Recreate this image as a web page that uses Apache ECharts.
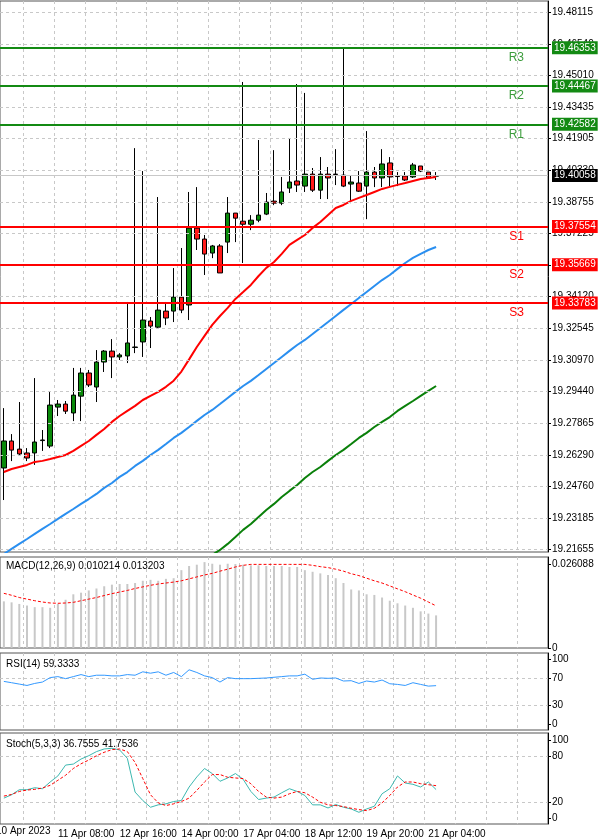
<!DOCTYPE html>
<html>
<head>
<meta charset="utf-8">
<script src="https://cdn.jsdelivr.net/npm/echarts@6/dist/echarts.min.js"></script>
<style>html,body{margin:0;padding:0;background:#fff}#main{width:600px;height:839px}</style>
</head>
<body>
<div id="main"></div>
<script>
// H4 candles [open, close, low, high]
const ohlc = [
  [19.2565,19.2698,19.2407,19.2860],[19.2698,19.2653,19.2599,19.2732],[19.2658,19.2634,19.2624,19.2890],
  [19.2639,19.2614,19.2599,19.2663],[19.2639,19.2693,19.2580,19.3008],[19.2700,19.2703,19.2649,19.2752],
  [19.2673,19.2875,19.2663,19.2939],[19.2865,19.2880,19.2821,19.2900],[19.2880,19.2845,19.2831,19.2895],
  [19.2836,19.2924,19.2796,19.3058],[19.2919,19.3033,19.2796,19.3058],[19.3033,19.2974,19.2964,19.3048],
  [19.2964,19.3087,19.2890,19.3146],[19.3087,19.3141,19.3038,19.3146],[19.3141,19.3112,19.3008,19.3200],
  [19.3112,19.3122,19.3097,19.3131],[19.3117,19.3181,19.3082,19.3383],[19.3159,19.3161,19.3131,19.4141],
  [19.3186,19.3294,19.3112,19.4028],[19.3289,19.3264,19.3156,19.3309],[19.3259,19.3343,19.3254,19.3900],
  [19.3338,19.3304,19.3269,19.3383],[19.3338,19.3407,19.3284,19.3550],[19.3407,19.3343,19.3328,19.3649],
  [19.3368,19.3747,19.3294,19.3925],[19.3747,19.3693,19.3639,19.3949],[19.3693,19.3619,19.3516,19.3713],
  [19.3624,19.3659,19.3599,19.3664],[19.3659,19.3526,19.3526,19.3668],[19.3678,19.3821,19.3624,19.3900],
  [19.3821,19.3796,19.3678,19.3821],[19.3781,19.3766,19.3575,19.4467],[19.3766,19.3786,19.3737,19.3811],
  [19.3786,19.3811,19.3776,19.4181],[19.3816,19.3875,19.3811,19.3920],[19.3880,19.3870,19.3860,19.4131],
  [19.3870,19.3925,19.3860,19.3999],[19.3944,19.3974,19.3920,19.4191],[19.3979,19.3959,19.3925,19.4457],
  [19.3954,19.4013,19.3925,19.4413],[19.4013,19.3934,19.3925,19.4043],[19.3934,19.4013,19.3890,19.4097],
  [19.4013,19.3994,19.3890,19.4048],[19.4013,19.4011,19.3959,19.4136],[19.4008,19.3954,19.3949,19.4630],
  [19.3964,19.3974,19.3870,19.4008],[19.3969,19.3929,19.3925,19.4028],[19.3954,19.4023,19.3791,19.4225],
  [19.4023,19.3994,19.3949,19.4048],[19.3994,19.4063,19.3949,19.4136],[19.4068,19.3999,19.3954,19.4097],
  [19.4004,19.4001,19.3954,19.4023],[19.4004,19.3984,19.3979,19.4023],[19.3999,19.4058,19.3994,19.4068],
  [19.4053,19.4028,19.4023,19.4053],[19.4023,19.3994,19.3994,19.4023],[19.4003,19.40058,19.3984,19.4023]
]

const maRed = [19.2545,19.2560,19.2570,19.2580,19.2595,19.2600,19.2609,19.2619,19.2629,19.2649,19.2674,19.2698,
  19.2728,19.2757,19.2792,19.2821,19.2846,19.2871,19.2900,19.2920,19.2940,19.2965,19.2995,19.3040,19.3100,19.3161,
  19.3216,19.3270,19.3314,19.3354,19.3398,19.3432,19.3467,19.3511,19.3551,19.3580,19.3620,19.3664,19.3689,19.3713,
  19.3748,19.3777,19.3812,19.3846,19.3861,19.3881,19.3896,19.3910,19.3925,19.3940,19.3950,19.3960,19.3969,19.3979,
  19.3989,19.3994,19.3999]
const maBlue = [19.2141,19.2166,19.2191,19.2215,19.2240,19.2265,19.2289,19.2314,19.2339,19.2363,19.2388,19.2412,
  19.2437,19.2467,19.2491,19.2521,19.2545,19.2575,19.2600,19.2629,19.2654,19.2683,19.2713,19.2738,19.2767,19.2797,
  19.2826,19.2851,19.2880,19.2910,19.2940,19.2969,19.2994,19.3023,19.3053,19.3082,19.3112,19.3142,19.3171,19.3196,
  19.3225,19.3255,19.3284,19.3314,19.3344,19.3373,19.3403,19.3432,19.3462,19.3491,19.3516,19.3546,19.3575,19.3600,
  19.3620,19.3639,19.3654]
const maGreen = [null,null,null,null,null,null,null,null,null,null,null,null,null,null,null,null,null,null,null,null,
  null,null,null,null,null,null,null,19.2137,19.2161,19.2191,19.2225,19.2260,19.2289,19.2324,19.2358,19.2388,19.2422,
  19.2452,19.2481,19.2516,19.2545,19.2570,19.2600,19.2629,19.2654,19.2683,19.2713,19.2738,19.2767,19.2792,19.2816,
  19.2846,19.2871,19.2895,19.2920,19.2945,19.2969]

const macdHist = [0.01461,0.01430,0.01380,0.01330,0.01279,0.01279,0.01259,0.01380,0.01511,0.01682,0.01733,0.01803,
  0.01864,0.01934,0.01984,0.02005,0.02005,0.02035,0.02105,0.02135,0.02105,0.02166,0.02186,0.02438,0.02569,0.02609,
  0.02690,0.02639,0.02609,0.02639,0.02629,0.02609,0.02589,0.02589,0.02569,0.02569,0.02569,0.02538,0.02538,0.02438,
  0.02387,0.02337,0.02287,0.02186,0.02035,0.01833,0.01803,0.01682,0.01662,0.01581,0.01481,0.01400,0.01330,0.01259,
  0.01148,0.01078,0.010214]
const macdSignal = [0.01712,0.01652,0.01581,0.01531,0.01481,0.01440,0.01410,0.01400,0.01410,0.01430,0.01481,0.01531,
  0.01581,0.01642,0.01702,0.01753,0.01803,0.01864,0.01914,0.01964,0.02005,0.02035,0.02065,0.02105,0.02166,0.02226,
  0.02287,0.02337,0.02407,0.02468,0.02538,0.02589,0.02619,0.02619,0.02619,0.02619,0.02619,0.02619,0.02619,0.02619,
  0.02589,0.02548,0.02518,0.02468,0.02407,0.02327,0.02267,0.02186,0.02105,0.02035,0.01944,0.01853,0.01763,0.01660,
  0.01560,0.01440,0.013203]
const rsi = [65.8,63.8,61.7,59.6,62.7,64.8,71.6,73.1,70,73.1,76.2,73.1,75.2,75.2,74.2,74.2,76.2,75.2,80.4,78.3,80.4,
  75.2,79.4,73.1,83.5,79.4,74.2,71.6,64.8,71.6,70,70,70,70.5,71,72.1,73.1,74.2,74.2,76.8,69,71,70.5,71,66.4,66.9,
  62.7,66.4,64.8,67.9,62.2,61.2,59.6,63.8,61.2,58.6,59.3333]
const stochK = [25.7,30,36.5,36.5,39.1,37.8,46.5,54.3,68.3,69.6,76.1,80.4,85.7,89.1,90,87.8,77,33.5,22.6,13.9,17,
  18.3,21.3,22.6,40,53,63.9,57.4,47.4,51.7,57.4,50,34.3,23.9,25.7,27,32.6,37.8,34.3,29.1,17,17,13,17.4,13.9,11.7,7.4,
  11.7,15.2,31.3,37.8,54.3,45.2,43.5,40,46.5,36.7555]
const stochD = [28.3,30.4,34.3,36.1,37,38.7,42.2,48.7,55.2,63.9,70,74.8,80.4,84.8,88.3,89.1,85.7,71.7,50.9,30,19.6,
  16.1,18.3,21.3,25.7,35.7,46.5,56.1,56.1,52.6,51.7,50.9,44.3,34.3,27,25.7,27,31.3,34.3,32.6,27,20.4,17,16.1,14.8,
  12.6,10.9,9.6,12.6,19.6,29.1,40,46.5,46.5,44.3,43,41.7536]

const priceTicks = [19.48115,19.46540,19.45010,19.43435,19.41905,19.40330,19.38755,19.37225,19.35650,19.34120,
  19.32545,19.30970,19.29440,19.27865,19.26290,19.24760,19.23185,19.21655]
const resistances = [['R1', 19.42582], ['R2', 19.44467], ['R3', 19.46353]]
const supports = [['S1', 19.37554], ['S2', 19.35669], ['S3', 19.33783]]
const lastPrice = 19.40058

// H4 bar times (market opens Sun 20:00), then empty room on the right
const SLOTS = 71
const months = ['Jan','Feb','Mar','Apr','May','Jun','Jul','Aug','Sep','Oct','Nov','Dec']
const cats = []
let t = Date.UTC(2023, 3, 10, 4)
while (cats.length < SLOTS) {
  const d = new Date(t)
  const wd = d.getUTCDay()
  if (!(wd === 6 || (wd === 0 && d.getUTCHours() < 20))) {
    cats.push(d.getUTCDate() + ' ' + months[d.getUTCMonth()] + ' ' + String(d.getUTCHours()).padStart(2, '0') + ':00')
  }
  t += 4 * 3600 * 1000
}

const FONT = 'Liberation Sans'
const GREEN = '#138a13'
const RED = '#ff0000'

const grids = [
  { left: 0, right: 52, top: 1, height: 551 },
  { left: 0, right: 52, top: 557, height: 91 },
  { left: 0, right: 52, top: 653, height: 77 },
  { left: 0, right: 52, top: 733, height: 91 }
].map(g => Object.assign(g, { show: true, borderColor: '#555', borderWidth: 1 }))

const xAxes = grids.map((g, i) => ({
  type: 'category', gridIndex: i, data: cats, boundaryGap: true,
  axisLine: { show: false }, axisTick: { show: false },
  splitLine: { show: true, interval: idx => idx % 4 === 3, lineStyle: { color: '#c8c8c8', type: [3, 3] } },
  axisLabel: i === 3 ? {
    interval: idx => idx % 8 === 7 && idx < ohlc.length, align: 'left', margin: 5,
    fontFamily: FONT, fontSize: 10, color: '#000'
  } : { show: false }
}))

function rightAxis(i, min, max, ticks, fmt) {
  return {
    type: 'value', gridIndex: i, position: 'right', min: min, max: max, scale: true,
    axisLine: { show: true, lineStyle: { color: '#000' } },
    axisTick: { show: true, customValues: ticks, length: 3, lineStyle: { color: '#000' } },
    splitLine: { show: false },
    axisLabel: { customValues: ticks, formatter: fmt, fontFamily: FONT, fontSize: 10, color: '#000', margin: 4 }
  }
}

const yAxes = [
  rightAxis(0, 19.2151, 19.4866, priceTicks, v => v.toFixed(5)),
  rightAxis(1, 0, 0.0285, [0, 0.026088], v => v === 0 ? '0' : v.toFixed(6)),
  rightAxis(2, -8.3, 109.1, [0, 30, 70, 100], v => String(v)),
  rightAxis(3, -7.7, 109.7, [0, 20, 80, 100], v => String(v))
]

const dashed = { color: '#c8c8c8', type: [3, 3], width: 1 }
const tag = (bg) => ({ show: true, position: 'end', distance: 4, backgroundColor: bg, color: '#fff',
  padding: [2, 2, 1, 2], fontFamily: FONT, fontSize: 10, formatter: p => Number(p.value).toFixed(5) })

const priceMarks = []
priceTicks.forEach(v => priceMarks.push({ yAxis: v, lineStyle: dashed, label: { show: false } }))
priceMarks.push({ yAxis: lastPrice, lineStyle: { color: '#c8c8c8', width: 1, type: 'solid' }, label: tag('#000') })
resistances.forEach(([n, v]) => {
  priceMarks.push({ yAxis: v, lineStyle: { color: GREEN, width: 2, type: 'solid' }, label: tag(GREEN) })
  priceMarks.push({ yAxis: v, lineStyle: { color: 'rgba(0,0,0,0)', width: 0 }, label: { show: true,
    position: 'insideEndBottom', distance: [24, 4], formatter: n, color: '#3c9c3c', fontFamily: FONT, fontSize: 12 } })
})
supports.forEach(([n, v]) => {
  priceMarks.push({ yAxis: v, lineStyle: { color: RED, width: 2, type: 'solid' }, label: tag(RED) })
  priceMarks.push({ yAxis: v, lineStyle: { color: 'rgba(0,0,0,0)', width: 0 }, label: { show: true,
    position: 'insideEndBottom', distance: [24, 4], formatter: n, color: RED, fontFamily: FONT, fontSize: 12 } })
})

const gridMarks = vals => ({ silent: true, symbol: 'none', z: 1,
  data: vals.map(v => ({ yAxis: v })), lineStyle: dashed, label: { show: false } })

const panelTitle = (text, top) => ({ text: text, left: 1, top: top,
  textStyle: { fontFamily: FONT, fontSize: 10, fontWeight: 'normal', color: '#000' } })

const option = {
  animation: false,
  backgroundColor: '#fff',
  title: [
    panelTitle('MACD(12,26,9) 0.010214 0.013203', 556),
    panelTitle('RSI(14) 59.3333', 654),
    panelTitle('Stoch(5,3,3) 36.7555 41.7536', 734)
  ],
  graphic: [{ type: 'text', left: -4, top: 826,
    style: { text: '10 Apr 2023', fontFamily: FONT, fontSize: 10, fill: '#000' } }],
  grid: grids,
  xAxis: xAxes,
  yAxis: yAxes,
  series: [
    {
      type: 'candlestick', xAxisIndex: 0, yAxisIndex: 0, data: ohlc, barWidth: 5, z: 3,
      itemStyle: { color: '#0a8a0a', color0: '#ff1a1a', borderColor: '#000', borderColor0: '#000', borderWidth: 1 },
      markLine: { silent: true, symbol: 'none', precision: 5, z: 10, data: priceMarks }
    },
    { type: 'line', xAxisIndex: 0, yAxisIndex: 0, data: maRed, showSymbol: false, z: 4,
      lineStyle: { color: RED, width: 2 } },
    { type: 'line', xAxisIndex: 0, yAxisIndex: 0, data: maBlue, showSymbol: false, z: 4,
      lineStyle: { color: '#2a8ff0', width: 2 } },
    { type: 'line', xAxisIndex: 0, yAxisIndex: 0, data: maGreen, showSymbol: false, z: 4,
      lineStyle: { color: '#0a800a', width: 2 } },
    { type: 'bar', xAxisIndex: 1, yAxisIndex: 1, data: macdHist, barWidth: 2,
      itemStyle: { color: '#c8c8c8' } },
    { type: 'line', xAxisIndex: 1, yAxisIndex: 1, data: macdSignal, showSymbol: false,
      lineStyle: { color: RED, width: 1, type: [3, 2] } },
    { type: 'line', xAxisIndex: 2, yAxisIndex: 2, data: rsi, showSymbol: false,
      lineStyle: { color: '#3399ff', width: 1 }, markLine: gridMarks([30, 70]) },
    { type: 'line', xAxisIndex: 3, yAxisIndex: 3, data: stochK, showSymbol: false,
      lineStyle: { color: '#3cb8b0', width: 1 }, markLine: gridMarks([20, 80]) },
    { type: 'line', xAxisIndex: 3, yAxisIndex: 3, data: stochD, showSymbol: false,
      lineStyle: { color: RED, width: 1, type: [3, 2] } }
  ]
}

const chart = echarts.init(document.getElementById('main'))
chart.setOption(option)
</script>
</body>
</html>
